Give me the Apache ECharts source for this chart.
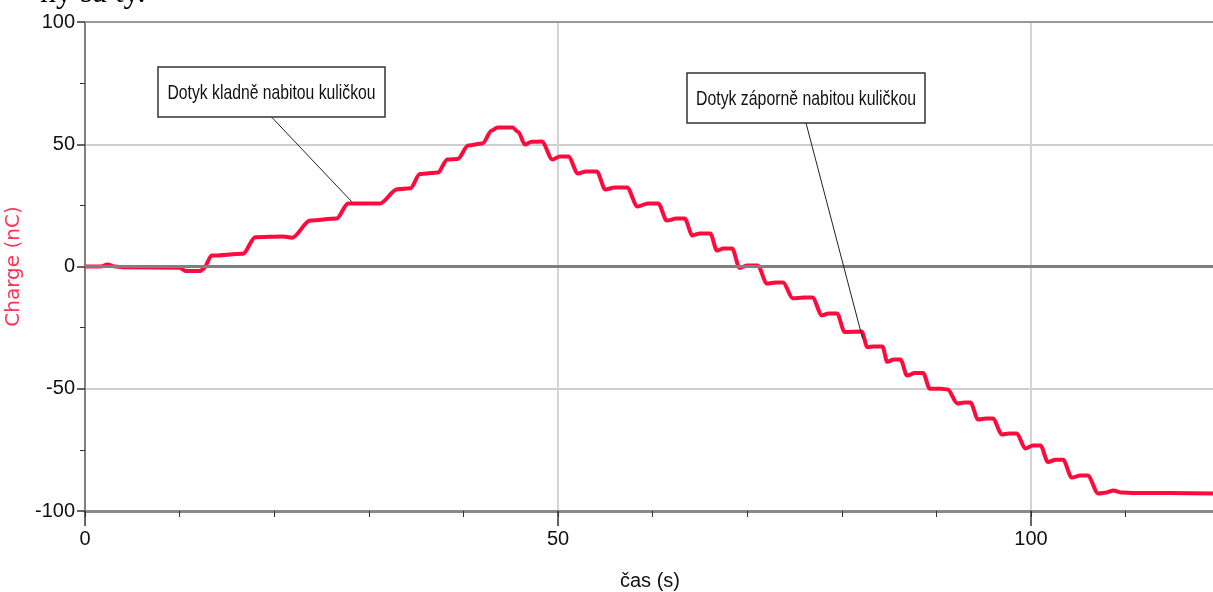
<!DOCTYPE html>
<html>
<head>
<meta charset="utf-8">
<script src="https://cdn.jsdelivr.net/npm/echarts@6/dist/echarts.min.js"></script>
<style>
html,body{margin:0;padding:0;background:#fff;}
#c{width:1213px;height:592px;}
</style>
</head>
<body>
<div id="c"></div>
<script>
// time (s)
const time = [0,1.6,2.4,3.2,4,10,10.6,12.2,12.5,13.4,16.7,18.0,20.9,21.9,23.8,26.6,27.8,31.2,33.0,34.4,35.4,37.3,38.3,39.4,40.5,42.0,43.0,43.6,45.2,45.8,46.5,47.2,48.3,49.4,50.2,51.1,52.1,53,54.1,55.0,56,57.3,58.4,59.5,60.6,61.5,62.5,63.4,64.2,65,66.1,66.8,67.5,68.4,69.2,70,71.1,72.1,73,73.8,74.8,76,76.9,77.9,78.6,79.5,80.3,82.1,82.7,83.4,84.3,84.8,85.5,86.2,86.9,87.7,88.6,89.3,90.5,91.2,92.2,93,93.6,94.4,95.2,96.0,96.9,97.7,98.5,99.4,100.2,101.0,101.8,102.6,103.4,104.3,105.2,106.0,107.1,108.0,108.7,109.5,111,119.4];
// charge (nC)
const charge = [0,0,0.8,0,-0.3,-0.5,-1.8,-1.8,-1,4.5,5.2,12,12.3,11.8,18.8,19.6,25.8,25.8,31.6,32,37.8,38.4,43.8,44,49.5,50.3,55.6,56.9,56.9,55,49.9,51,51.1,43.8,45,45,38,38.9,38.9,31.5,32.3,32.3,24.5,25.8,25.8,18.8,19.6,19.6,12.7,13.5,13.5,6.5,7.4,7.4,-0.6,0.4,0.4,-7,-6.5,-6.5,-13,-12.7,-12.7,-20,-19.2,-19.2,-26.8,-26.6,-33,-32.7,-32.7,-39,-38,-38,-44.6,-43.6,-43.6,-50,-50,-50.3,-56,-55.6,-55.6,-62.6,-62.2,-62.2,-68.7,-68.3,-68.3,-74.4,-73.2,-73.2,-80,-79,-79,-86.3,-85.5,-85.5,-92.8,-92.4,-91.6,-92.4,-92.6,-92.8];
const xMajorTicks = [0,50,100];
const yTicks = [-100,-50,0,50,100];
const xMin = 0, xMax = 119.45, yMin = -100, yMax = 100;
const annotations = [
  {text:'Dotyk kladně nabitou kuličkou', at:[28.2, 26.5]},
  {text:'Dotyk záporně nabitou kuličkou', at:[82.2, -29.5]}
];

const labelFont = "'Liberation Sans',Arial,sans-serif";
const chart = echarts.init(document.getElementById('c'), null, {renderer:'canvas'});
const pts = time.map((t,i)=>[t, charge[i]]);

chart.setOption({
  animation:false,
  backgroundColor:'#fff',
  grid:{left:85,right:-2,top:22,bottom:81,containLabel:false,outerBoundsMode:'none'},
  xAxis:[
    {type:'value',min:xMin,max:xMax,interval:10,position:'bottom',
     axisLine:{show:true,onZero:false,lineStyle:{color:'#8a8a8a',width:3}},
     axisTick:{show:true,length:6,lineStyle:{color:'#333',width:1}},
     axisLabel:{show:false},splitLine:{show:false}},
    {type:'value',min:xMin,max:xMax,interval:50,position:'bottom',
     axisLine:{show:false,onZero:false},
     axisTick:{show:true,length:15,lineStyle:{color:'#333',width:1.5}},
     axisLabel:{show:true,margin:18,fontSize:20,color:'#111',fontFamily:labelFont,
       formatter:v=>xMajorTicks.includes(v)?String(v):''},
     splitLine:{show:true,lineStyle:{color:'#d4d4d4',width:2}},
     name:'čas (s)',nameLocation:'middle',nameGap:60,
     nameTextStyle:{fontSize:20,color:'#111',fontFamily:labelFont}},
    {type:'value',min:xMin,max:xMax,position:'top',
     axisLine:{show:true,onZero:false,lineStyle:{color:'#9a9a9a',width:2}},
     axisTick:{show:false},axisLabel:{show:false},splitLine:{show:false}}
  ],
  yAxis:{type:'value',min:yMin,max:yMax,interval:50,
    axisLine:{show:true,onZero:false,lineStyle:{color:'#808080',width:2}},
    axisTick:{show:true,length:8,lineStyle:{color:'#333',width:1.5}},
    minorTick:{show:true,splitNumber:2,length:5,lineStyle:{color:'#333',width:1}},
    axisLabel:{margin:10,fontSize:20,color:'#111',fontFamily:labelFont,
      formatter:v=>yTicks.includes(v)?String(v):''},
    splitLine:{show:true,lineStyle:{color:'#cfcfcf',width:2}},
    name:'Charge (nC)',nameLocation:'middle',nameRotate:90,nameGap:51,
    nameTextStyle:{fontSize:20,color:'#ff3355',fontFamily:'DejaVu Sans'}},
  series:[
    {type:'line',data:[],xAxisIndex:0,z:1,silent:true,
     markLine:{silent:true,symbol:'none',label:{show:false},
       lineStyle:{color:'#7f7f7f',width:3,type:'solid'},data:[{yAxis:0}]}},
    {type:'line',data:pts,xAxisIndex:0,z:3,showSymbol:false,symbol:'none',
     smooth:0.3,smoothMonotone:'x',
     lineStyle:{color:'#ff0a3c',width:4}}
  ]
});

// annotation boxes (layout only)
const boxes = [
  {x:158,y:67,w:227,h:50,tw:208},
  {x:687,y:73,w:238,h:50,tw:220}
];
const annFont = "21px 'Liberation Sans',Arial,sans-serif";
const mctx = document.createElement('canvas').getContext('2d');
mctx.font = annFont;
const graphics = [];
annotations.forEach((a,i)=>{
  const b = boxes[i];
  const p = chart.convertToPixel({xAxisIndex:0,yAxisIndex:0}, a.at);
  const sx = b.tw / mctx.measureText(a.text).width;
  graphics.push({type:'line',z:10,shape:{x1:b.x+b.w/2,y1:b.y+b.h,x2:p[0],y2:p[1]},style:{stroke:'#222',lineWidth:1}});
  graphics.push({type:'rect',z:11,shape:{x:b.x,y:b.y,width:b.w,height:b.h},style:{fill:'#fff',stroke:'#333',lineWidth:1.5}});
  graphics.push({type:'text',z:12,x:b.x+b.w/2,y:b.y+b.h/2+1,scaleX:sx,style:{text:a.text,font:annFont,fill:'#111',textAlign:'center',textVerticalAlign:'middle'}});
});
graphics.push({type:'text',z:12,x:40,y:-22,style:{text:'ny sa ty.',font:'32px "Liberation Serif",serif',fill:'#000'}});
chart.setOption({graphic:graphics});
</script>
</body>
</html>
